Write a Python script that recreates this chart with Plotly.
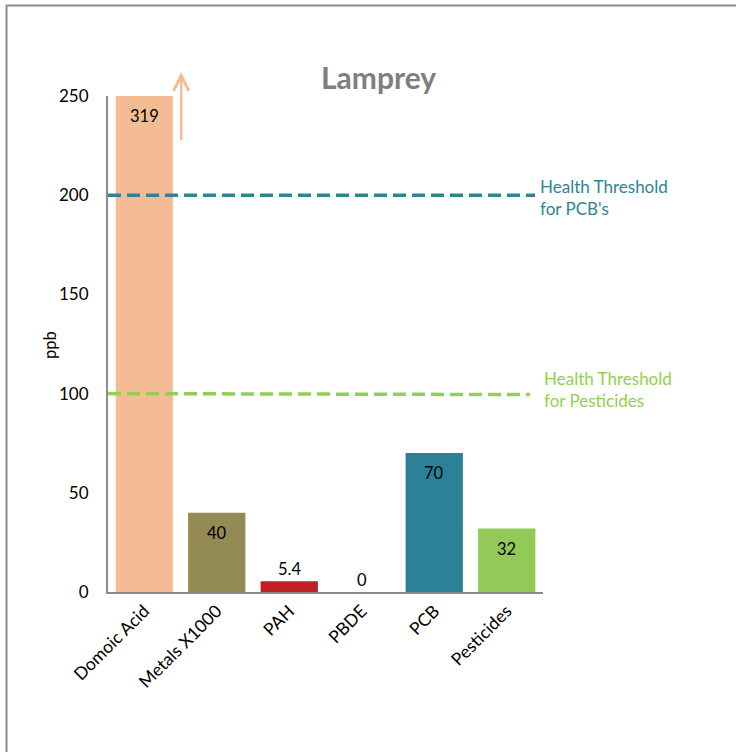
import plotly.graph_objects as go

categories = ["Domoic Acid", "Metals X1000", "PAH", "PBDE", "PCB", "Pesticides"]
values = [319, 40, 5.4, 0, 70, 32]
value_labels = ["319", "40", "5.4", "0", "70", "32"]
bar_colors = ["#F4BC92", "#948A54", "#BE2026", "#BE2026", "#2B8196", "#92C957"]
label_inside = [True, True, False, False, True, True]
y_max = 250
y_ticks = [0, 50, 100, 150, 200, 250]
pcb_threshold = 200
pesticide_threshold = 100

FONT = "Lato, 'Open Sans', sans-serif"
L, R, T, B = 108, 193, 96, 160
W, H = 736, 752
pw, ph = W - L - R, H - T - B

def px_x(p):
    return (p - L) / pw

def px_y(p):
    return (H - B - p) / ph

shown = [min(v, y_max) for v in values]

fig = go.Figure()
fig.add_trace(go.Bar(
    x=categories, y=shown, marker_color=bar_colors, marker_line_width=0,
    cliponaxis=False, hoverinfo="skip",
))

# data labels
for cat, v, lab, inside in zip(categories, shown, value_labels, label_inside):
    fig.add_annotation(xref="x", yref="y", x=cat, y=v, text=lab, showarrow=False,
                       xanchor="center", yanchor="middle",
                       yshift=-20 if inside else 12,
                       font=dict(size=16.5, color="#000000", family=FONT))

# threshold lines
fig.add_shape(type="line", xref="paper", yref="y", x0=0, x1=px_x(535),
              y0=pcb_threshold, y1=pcb_threshold,
              line=dict(color="#2E8496", width=3.5, dash="13px,6px"))
fig.add_shape(type="line", xref="paper", yref="y", x0=0, x1=px_x(530),
              y0=pesticide_threshold, y1=pesticide_threshold - 0.5,
              line=dict(color="#92D050", width=3.5, dash="13px,6px"))

fig.add_annotation(xref="paper", yref="y", x=px_x(538), y=pcb_threshold - 1,
                   text="Health Threshold<br>for PCB's", showarrow=False,
                   xanchor="left", yanchor="middle", align="left",
                   font=dict(size=17, color="#2E8496", family=FONT))
fig.add_annotation(xref="paper", yref="y", x=px_x(542), y=pesticide_threshold + 2,
                   text="Health Threshold<br>for Pesticides", showarrow=False,
                   xanchor="left", yanchor="middle", align="left",
                   font=dict(size=17, color="#92D050", family=FONT))

# arrow showing the Domoic Acid bar exceeds the axis
fig.add_annotation(xref="x", yref="y", axref="x", ayref="y",
                   x=0.51, y=262, ax=0.51, ay=227, text="",
                   showarrow=True, arrowhead=5, arrowsize=1.2, arrowwidth=2.5,
                   arrowcolor="#F4BC92")

# title
fig.add_annotation(xref="paper", yref="paper", x=px_x(378), y=px_y(77),
                   text="<b>Lamprey</b>", showarrow=False,
                   xanchor="center", yanchor="middle",
                   font=dict(size=30, color="#7F7F7F", family=FONT))

# y axis title
fig.add_annotation(xref="paper", yref="paper", x=px_x(50), y=px_y(345),
                   text="ppb", showarrow=False, textangle=-90,
                   xanchor="center", yanchor="middle",
                   font=dict(size=16.5, color="#000000", family=FONT))

# outer border
fig.add_shape(type="rect", xref="paper", yref="paper",
              x0=px_x(6.5), x1=px_x(760), y0=px_y(770), y1=px_y(5.5),
              line=dict(color="#8C8C8C", width=2), fillcolor="rgba(0,0,0,0)", layer="below")

fig.update_layout(
    width=W, height=H,
    margin=dict(l=L, r=R, t=T, b=B, autoexpand=False),
    paper_bgcolor="white", plot_bgcolor="white",
    bargap=0.21, showlegend=False,
    font=dict(family=FONT, color="#000000"),
)
fig.update_xaxes(showline=True, linecolor="#8C8C8C", linewidth=2, showgrid=False,
                 tickangle=-45, tickfont=dict(size=17.5, family=FONT, color="#000000"),
                 ticks="", fixedrange=True)
fig.update_yaxes(range=[0, y_max], tickvals=y_ticks, showline=True, linecolor="#8C8C8C",
                 linewidth=2, showgrid=False, zeroline=False, ticks="",
                 tickfont=dict(size=17, family=FONT, color="#000000"), ticklabelstandoff=14)

fig.write_html("out.html", config={"displayModeBar": False},
               post_script="document.body.style.margin='0';")
